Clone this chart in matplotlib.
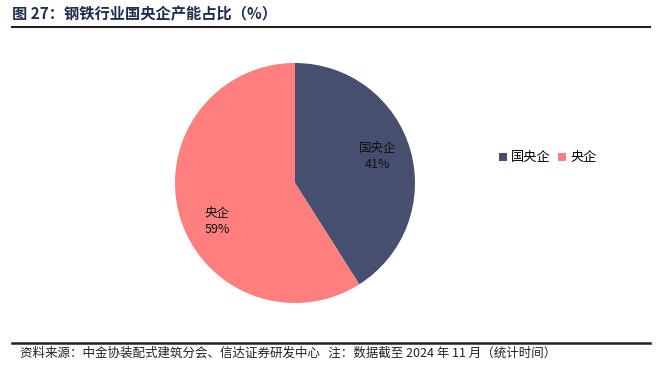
import matplotlib
matplotlib.use("Agg")
import matplotlib.pyplot as plt
from matplotlib.lines import Line2D

plt.rcParams['font.family'] = ['Noto Sans CJK SC', 'DejaVu Sans']

categories = ['国央企', '央企']
values = [41, 59]
colors = ['#474F6E', '#FF7F7F']
title = '图 27：钢铁行业国央企产能占比（%）'
source = '资料来源：中金协装配式建筑分会、信达证券研发中心   注：数据截至 2024 年 11 月（统计时间）'

W, H = 662, 376
fig = plt.figure(figsize=(W / 100, H / 100), dpi=100)

cx, cy, r = 295, 183, 120
ax = fig.add_axes([(cx - r) / W, (H - cy - r) / H, 2 * r / W, 2 * r / H])
wedges, _ = ax.pie(values, colors=colors, startangle=90, counterclock=False,
                   radius=1, wedgeprops=dict(linewidth=0))
ax.set_xlim(-1, 1)
ax.set_ylim(-1, 1)
ax.set_aspect('equal')
ax.axis('off')

label_pos = [(0.69, 0.22), (-0.65, -0.32)]
for (x, y), cat, v in zip(label_pos, categories, values):
    ax.text(x, y, f'{cat}\n{v}%', ha='center', va='center', fontsize=9,
            color='#111111', linespacing=1.3)

leg = fig.legend(wedges, categories, loc='center left',
                 bbox_to_anchor=(487 / W, 1 - 158 / H), ncol=2, frameon=False,
                 fontsize=9.5, handlelength=0.6, handleheight=0.6,
                 handletextpad=0.3, columnspacing=0.6)

fig.text(12 / W, 1 - 14 / H, title, fontsize=11, fontweight='bold',
         color='#1F2D50', ha='left', va='center')
fig.add_artist(Line2D([12 / W, 650 / W], [1 - 27 / H, 1 - 27 / H],
                      color='#222222', linewidth=1.5))
fig.add_artist(Line2D([12 / W, 650 / W], [1 - 343 / H, 1 - 343 / H],
                      color='#222222', linewidth=1.8))
fig.text(20 / W, 1 - 353 / H, source, fontsize=9, style='italic',
         color='#222222', ha='left', va='center')

fig.savefig('out.png', dpi=100)
